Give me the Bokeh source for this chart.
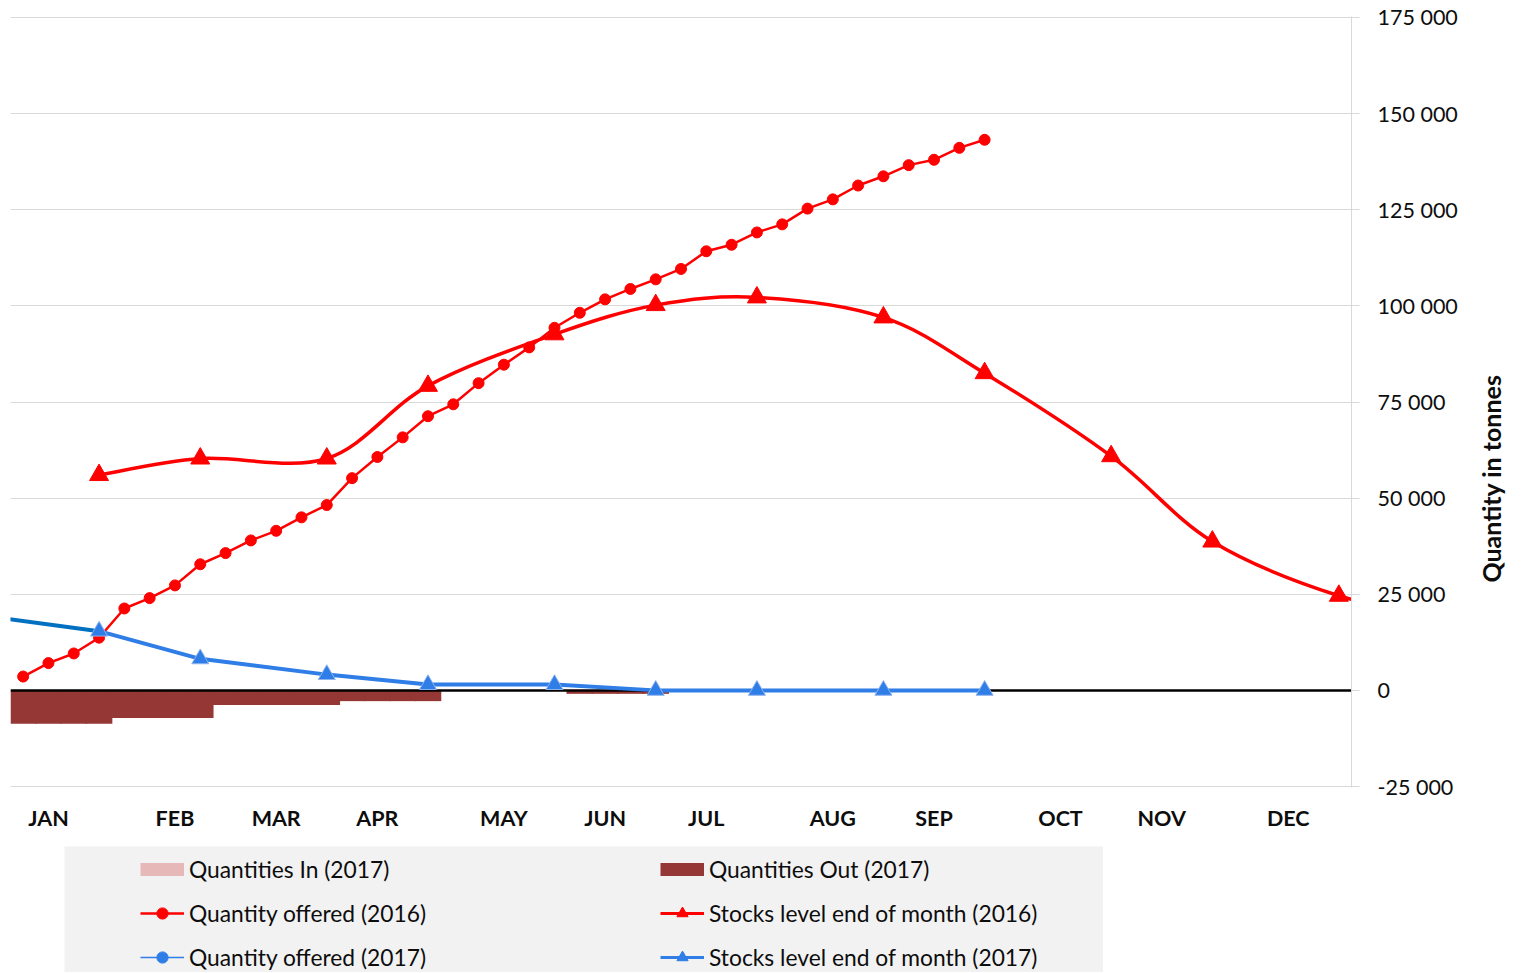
from math import pi
from bokeh.plotting import figure
from bokeh.layouts import column, row
from bokeh.models import Range1d, FixedTicker, Legend, LegendItem, Label
from bokeh.embed import file_html
from bokeh.resources import INLINE

# ---------------- data ----------------
month_ticks = [2, 7, 11, 15, 20, 24, 28, 33, 37, 42, 46, 51]
month_names = ["JAN", "FEB", "MAR", "APR", "MAY", "JUN", "JUL", "AUG", "SEP", "OCT", "NOV", "DEC"]

y_ticks = [-25000, 0, 25000, 50000, 75000, 100000, 125000, 150000, 175000]
y_tick_labels = ["-25 000", "0", "25 000", "50 000", "75 000", "100 000", "125 000", "150 000", "175 000"]

# Quantities Out (2017), weekly
out_weeks = [1, 2, 3, 4, 5, 6, 7, 8, 9, 10, 11, 12, 13, 14, 15, 16, 17, 18, 19, 20, 21, 22, 23, 24, 25, 26]
out_2017 = [-8700, -8700, -8700, -8700, -7200, -7200, -7200, -7200, -3800, -3800, -3800, -3800, -3800,
            -2800, -2800, -2800, -2800, 0, 0, 0, 0, 0, -900, -900, -900, -900]
# Quantities In (2017): nothing visible
in_weeks = []
in_2017 = []

# Quantity offered (2016), weekly
offered16_weeks = list(range(1, 40))
offered_2016 = [3600, 7100, 9600, 13700, 21300, 24000, 27300, 32800, 35700, 39000, 41500, 45000, 48200,
                55200, 60700, 65800, 71300, 74400, 79900, 84700, 89200, 94300, 98200, 101700, 104400,
                106900, 109600, 114200, 115900, 119100, 121200, 125300, 127700, 131300, 133700, 136600,
                138000, 141100, 143200]
# Quantity offered (2017): nothing visible
offered17_weeks = []
offered_2017 = []

# Stocks level end of month (2016)
stock16_weeks = [4, 8, 13, 17, 22, 26, 30, 35, 39, 44, 48, 53, 57]
stock_2016 = [56000, 60300, 60300, 79200, 92600, 100200, 102200, 97000, 82500, 60900, 38700, 24600, 19800]

# Stocks level end of month (2017) (first point = opening level)
stock17_weeks = [0, 4, 8, 13, 17, 22, 26, 30, 35, 39]
stock_2017 = [18900, 15400, 8200, 4100, 1500, 1500, 0, 0, 0, 0]

zero_line = [0]

# ---------------- style ----------------
FONT = "Lato"
FS = "21.5px"
LEG_FS = "22.8px"
TITLE_FS = "25px"
RED = "#FF0000"
BLUE = "#2F7DE6"
DARKBLUE = "#0070C0"
BAR_OUT = "#953735"
BAR_IN = "#E6B9B8"
GRID = "#D9D9D9"
TXT = "#0D0D0D"
LEG_BG = "#F2F2F2"

MAIN_W, MAIN_H = 1470, 846
FRAME_TOP, FRAME_BOTTOM = 16, 787
Y_PAD = 260  # one pixel of value, so the end gridlines fall inside the frame

p = figure(width=MAIN_W, height=MAIN_H, x_range=Range1d(0.5, 53.5),
           y_range=Range1d(y_ticks[0] - Y_PAD, y_ticks[-1] + Y_PAD),
           output_backend="svg", toolbar_location=None, y_axis_location="right",
           min_border_left=10, min_border_right=MAIN_W - 1351, min_border_top=FRAME_TOP,
           min_border_bottom=MAIN_H - FRAME_BOTTOM)
p.outline_line_color = None
p.background_fill_color = "white"
p.border_fill_color = "white"

# grid
p.xgrid.visible = False
p.ygrid.ticker = FixedTicker(ticks=y_ticks)
p.ygrid.grid_line_color = GRID
p.ygrid.grid_line_width = 1

# x axis (months)
xa = p.xaxis[0]
xa.ticker = FixedTicker(ticks=month_ticks)
xa.major_label_overrides = dict(zip(month_ticks, month_names))
xa.axis_line_color = None
xa.major_tick_line_color = None
xa.minor_tick_line_color = None
xa.major_tick_out = 0
xa.major_tick_in = 0
xa.major_label_standoff = 17
xa.major_label_text_font = FONT
xa.major_label_text_font_size = FS
xa.major_label_text_font_style = "bold"
xa.major_label_text_color = TXT

# y axis (right)
ya = p.yaxis[0]
ya.ticker = FixedTicker(ticks=y_ticks)
ya.major_label_overrides = dict(zip(y_ticks, y_tick_labels))
ya.axis_line_color = GRID
ya.major_tick_line_color = GRID
ya.minor_tick_line_color = None
ya.major_tick_out = 8
ya.major_tick_in = 0
ya.major_label_standoff = 18
ya.major_label_text_font = FONT
ya.major_label_text_font_size = FS
ya.major_label_text_color = TXT

# bars
p.vbar(x=out_weeks, top=0, bottom=out_2017, width=1.05, fill_color=BAR_OUT, line_color=None)
p.vbar(x=in_weeks, top=in_2017, bottom=0, width=1.05, fill_color=BAR_IN, line_color=None)

# zero line
p.hspan(y=zero_line, line_color="black", line_width=2.5)

# Quantity offered 2016
p.line(offered16_weeks, offered_2016, line_color=RED, line_width=2.5)
p.scatter(offered16_weeks, offered_2016, marker="circle", size=11, fill_color=RED, line_color=RED)

# Quantity offered 2017 (no visible points)
p.line(offered17_weeks, offered_2017, line_color=BLUE, line_width=1.5)

# Stocks 2016 -- smoothed line (Bezier through the points)
def smooth(xs, ys):
    n = len(xs)
    out = {k: [] for k in ("x0", "y0", "x1", "y1", "cx0", "cy0", "cx1", "cy1")}
    for i in range(n - 1):
        a = max(i - 1, 0)
        d = min(i + 2, n - 1)
        out["x0"].append(xs[i]); out["y0"].append(ys[i])
        out["x1"].append(xs[i + 1]); out["y1"].append(ys[i + 1])
        out["cx0"].append(xs[i] + (xs[i + 1] - xs[a]) / 6.0)
        out["cy0"].append(ys[i] + (ys[i + 1] - ys[a]) / 6.0)
        out["cx1"].append(xs[i + 1] - (xs[d] - xs[i]) / 6.0)
        out["cy1"].append(ys[i + 1] - (ys[d] - ys[i]) / 6.0)
    return out

p.bezier(**smooth(stock16_weeks, stock_2016), line_color=RED, line_width=3.5)
p.scatter(stock16_weeks, stock_2016, marker="triangle", size=19, fill_color=RED, line_color=RED)

# Stocks 2017
p.line(stock17_weeks[:2], stock_2017[:2], line_color=DARKBLUE, line_width=4)
p.line(stock17_weeks[1:], stock_2017[1:], line_color=BLUE, line_width=4)
p.scatter(stock17_weeks[1:], stock_2017[1:], marker="triangle", size=17, fill_color=BLUE,
          line_color="#8DB3EE", line_width=1)

# ---------------- axis title (own narrow panel; frame aligned with main plot) ----------------
tfig = figure(width=45, height=MAIN_H, x_range=Range1d(0, 1), y_range=Range1d(0, 1),
              output_backend="svg", toolbar_location=None, x_axis_location=None, y_axis_location=None,
              min_border=0)
tfig.outline_line_color = None
tfig.grid.visible = False
tfig.add_layout(Label(x=20, y=FRAME_BOTTOM - 478, x_units="screen", y_units="screen",
                      text="Quantity in tonnes",
                      angle=pi / 2, text_align="center", text_baseline="middle",
                      text_font=FONT, text_font_size=TITLE_FS, text_font_style="bold", text_color=TXT))

# ---------------- legend (own grey panel) ----------------
LEG_H = 126
lfig = figure(width=1039, height=LEG_H, x_range=Range1d(0, 1), y_range=Range1d(0, 1),
              output_backend="svg", toolbar_location=None, x_axis_location=None, y_axis_location=None,
              min_border=0, margin=(0, 0, 0, 64))
lfig.outline_line_color = None
lfig.grid.visible = False
lfig.background_fill_color = LEG_BG
lfig.border_fill_color = LEG_BG

NAN = [float("nan")]  # legend handles only: no visible data
lg_in = lfig.line(NAN, NAN, line_color=BAR_IN, line_width=13, line_cap="butt")
lg_out = lfig.line(NAN, NAN, line_color=BAR_OUT, line_width=13, line_cap="butt")
lg_o16_l = lfig.line(NAN, NAN, line_color=RED, line_width=2.5)
lg_o16_m = lfig.scatter(NAN, NAN, marker="circle", fill_color=RED, line_color=RED)
lg_s16_l = lfig.line(NAN, NAN, line_color=RED, line_width=3)
lg_s16_m = lfig.scatter(NAN, NAN, marker="triangle", fill_color=RED, line_color=RED)
lg_o17_l = lfig.line(NAN, NAN, line_color=BLUE, line_width=1.5)
lg_o17_m = lfig.scatter(NAN, NAN, marker="circle", fill_color=BLUE, line_color=BLUE)
lg_s17_l = lfig.line(NAN, NAN, line_color=BLUE, line_width=3)
lg_s17_m = lfig.scatter(NAN, NAN, marker="triangle", fill_color=BLUE, line_color=BLUE)

def col_legend(items, x):
    return Legend(items=items, location=(x, 1), padding=0, margin=0, spacing=16,
                  glyph_width=44, glyph_height=28, label_height=28, label_standoff=5,
                  label_text_font=FONT, label_text_font_size=LEG_FS, label_text_color=TXT,
                  background_fill_alpha=0.0, border_line_color=None)

leg1 = col_legend([
    LegendItem(label="Quantities In (2017)", renderers=[lg_in]),
    LegendItem(label="Quantity offered (2016)", renderers=[lg_o16_l, lg_o16_m]),
    LegendItem(label="Quantity offered (2017)", renderers=[lg_o17_l, lg_o17_m]),
], 76)
leg2 = col_legend([
    LegendItem(label="Quantities Out (2017)", renderers=[lg_out]),
    LegendItem(label="Stocks level end of month (2016)", renderers=[lg_s16_l, lg_s16_m]),
    LegendItem(label="Stocks level end of month (2017)", renderers=[lg_s17_l, lg_s17_m]),
], 596)
lfig.add_layout(leg1, "center")
lfig.add_layout(leg2, "center")

layout = column(row(p, tfig, spacing=0), lfig, spacing=0)

open("out.html", "w").write(file_html(layout, INLINE))
